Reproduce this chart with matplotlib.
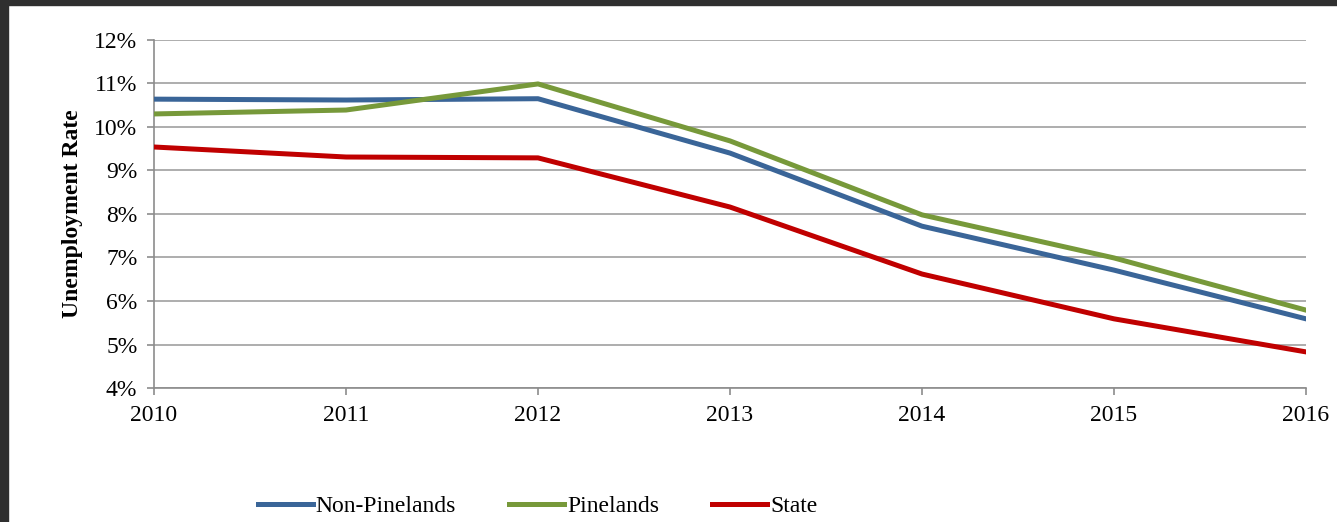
import matplotlib.pyplot as plt
from matplotlib.patches import Rectangle
from matplotlib.ticker import FuncFormatter

years = [2010, 2011, 2012, 2013, 2014, 2015, 2016]
non_pinelands = [10.64, 10.62, 10.65, 9.40, 7.72, 6.71, 5.59]
pinelands = [10.30, 10.39, 10.99, 9.68, 7.98, 6.99, 5.79]
state = [9.54, 9.31, 9.29, 8.16, 6.62, 5.59, 4.83]

plt.rcParams["font.family"] = ["Liberation Serif", "DejaVu Serif"]

fig = plt.figure(figsize=(13.37, 5.22), dpi=100)
ax = fig.add_axes([0.1152, 0.2567, 0.9768 - 0.1152, 0.9234 - 0.2567])

# dark frame strips along the top and left edges
fig.patches.append(Rectangle((0, 0.99), 1, 0.01, transform=fig.transFigure,
                             color="#2f2f2f", zorder=10))
fig.patches.append(Rectangle((0, 0), 0.0062, 1, transform=fig.transFigure,
                             color="#2f2f2f", zorder=10))

ax.plot(years, non_pinelands, color="#3a6598", lw=3.6, label="Non-Pinelands", zorder=3)
ax.plot(years, pinelands, color="#77993a", lw=3.6, label="Pinelands", zorder=3)
ax.plot(years, state, color="#c00000", lw=3.6, label="State", zorder=3)

ax.set_xlim(2010, 2016)
ax.set_ylim(4, 12)
ax.set_xticks(years)
ax.set_yticks(range(4, 13))
ax.yaxis.set_major_formatter(FuncFormatter(lambda v, _: f"{int(v)}%"))
ax.grid(axis="y", color="#a0a0a0", lw=1.2, zorder=0)

for side in ["top", "right"]:
    ax.spines[side].set_visible(False)
for side in ["left", "bottom"]:
    ax.spines[side].set_color("#8c8c8c")
    ax.spines[side].set_linewidth(1.2)

ax.tick_params(axis="y", length=5, width=1.2, color="#8c8c8c", labelsize=17, pad=7)
ax.tick_params(axis="x", length=5, width=1.2, color="#8c8c8c", labelsize=17, pad=7)

ax.set_ylabel("Unemployment Rate", fontsize=17, fontweight="bold", labelpad=8)

ax.legend(loc="center", bbox_to_anchor=(0.333, -0.34), ncol=3, frameon=False,
          fontsize=17, handlelength=2.33, handletextpad=0.12, columnspacing=2.25)

fig.savefig("out.png", dpi=100, facecolor="white")
